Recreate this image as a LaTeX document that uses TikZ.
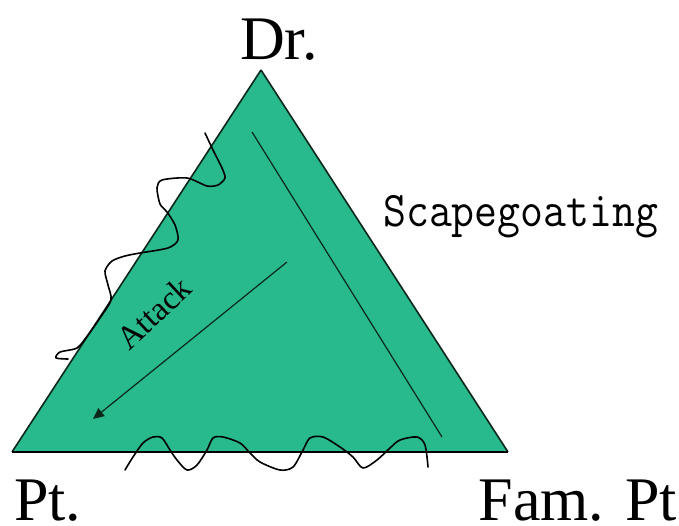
\documentclass[tikz,border=0pt]{standalone}
\usepackage{fontspec}
\setmainfont{Liberation Serif}
\usetikzlibrary{arrows.meta}
\definecolor{trigreen}{RGB}{40,185,140}
\definecolor{edgedark}{RGB}{10,40,25}
\tikzset{
  bigserif/.style={font=\fontsize{62}{62}\selectfont, inner sep=0pt},
  wavy/.style={draw=black, line width=1.6pt, line join=round, line cap=round},
  thinline/.style={draw=edgedark, line width=1.2pt}
}
\begin{document}
\begin{tikzpicture}[x=1pt,y=-1pt]
\useasboundingbox (0,0) rectangle (679,526);
% triangle
\coordinate (top) at (261,70);
\coordinate (left) at (12,452);
\coordinate (right) at (508,452);
\fill[trigreen] (top) -- (left) -- (right) -- cycle;
\draw[edgedark, line width=1.6pt, line join=miter] (top) -- (left);
\draw[edgedark, line width=1.6pt] (top) -- (right);
\draw[black, line width=2.6pt] (left) -- (right);
% scapegoating line
\coordinate (sA) at (252,132);
\coordinate (sB) at (442,437);
\draw[thinline] (sA) -- (sB);
% attack arrow
\coordinate (aA) at (287,262);
\coordinate (aB) at (93,419);
\draw[thinline, -{Triangle[length=11pt,width=10pt]}] (aA) -- (aB);
% left wavy line
\draw[wavy] plot[smooth, tension=0.45] coordinates {
 (205,133) (213,150) (222,168) (225,178) (218,185) (207,186) (187,178)
 (162,180) (157,188) (160,204) (167,212) (175,225) (178,240) (168,248)
 (140,253) (125,256) (112,261) (105,271) (108,285) (111,300) (100,318)
 (88,335) (77,348) (60,352) (56,358) (68,359)};
% bottom wavy line
\draw[wavy] plot[smooth, tension=0.5] coordinates {
 (125,470) (133,457) (143,443) (153,437) (162,438) (170,450) (177,460)
 (187,470) (197,465) (207,450) (213,438) (223,437) (240,443) (250,453)
 (260,462) (280,470) (293,467) (303,450) (310,438) (323,437) (340,447)
 (353,457) (363,468) (377,460) (390,448) (400,440) (417,437) (425,445)
 (428,467)};
% labels
\node[bigserif, anchor=base west] (dr) at (240,60) {Dr.};
\node[bigserif, anchor=base west] (pt) at (14,520) {Pt.};
\node[bigserif, anchor=base east] (fam) at (677,520) {Fam. Pt};
\node[anchor=base west, inner sep=0pt] (scape) at (383,227)
  {\scalebox{1}[1.12]{\ttfamily\fontsize{44.5}{44.5}\selectfont Scapegoating}};
\node[rotate=43, inner sep=0pt, font=\fontsize{33}{33}\selectfont, text=black] (attack) at (154,313) {Attack};
\end{tikzpicture}
\end{document}
